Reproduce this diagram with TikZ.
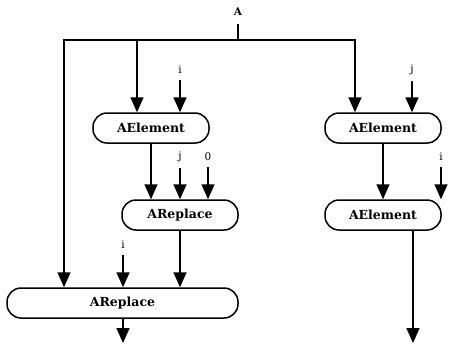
\documentclass[tikz,border=0pt]{standalone}
\usepackage{fontspec}
\setmainfont{DejaVu Serif}
\usepackage{tikz}
\usetikzlibrary{arrows.meta}

\tikzset{
    op/.style={draw,line width=1.5pt,rounded corners=14pt,minimum width=116pt,minimum height=30pt,
        inner sep=0pt,font=\fontsize{12.5}{14}\selectfont\bfseries},
    lbl/.style={inner sep=1pt,font=\fontsize{10.5}{12}\selectfont},
    wire/.style={line width=1.7pt},
    flow/.style={line width=1.7pt,-{Triangle[length=15pt,width=13pt]}}
}

\begin{document}
\begin{tikzpicture}[x=1pt,y=-1pt]
            \useasboundingbox (0,0) rectangle (469,349);

            % operation boxes
            \node[op] (ae1) at (151,128) {AElement};
            \node[op] (ae2) at (383,128) {AElement};
            \node[op] (ar1) at (180,215) {AReplace};
            \node[op] (ae3) at (383,215) {AElement};
            \node[op,minimum width=231pt] (ar2) at (122.5,303) {AReplace};

            % input labels
            \node[lbl,font=\fontsize{10.5}{12}\selectfont\bfseries] (a) at (238,12) {A};
            \node[lbl] (i1) at (180,70) {i};
            \node[lbl] (j1) at (412,70) {j};
            \node[lbl] (j2) at (180,157) {j};
            \node[lbl] (z2) at (208,157) {0};
            \node[lbl] (i3) at (441,157) {i};
            \node[lbl] (i4) at (123,245) {i};

            % the array A fans out
            \coordinate (top) at (238,40);
            \coordinate (barL) at (64,40);
            \coordinate (barM) at (137,40);
            \coordinate (barR) at (355,40);
            \draw[wire,shorten <=7pt] (a) -- (top);
            \draw[flow] (top) -- (barL) -- (barL |- ar2.north);
            \draw[flow] (top) -- (barR) -- (barR |- ae2.north);
            \draw[flow] (barM) -- (barM |- ae1.north);

            % index inputs
            \foreach \s/\t in {i1/ae1,j1/ae2,j2/ar1,z2/ar1,i3/ae3,i4/ar2}
                \draw[flow,shorten <=5pt] (\s.south) -- (\s |- \t.north);

            % results
            \draw[flow] (ae1.south) -- (ae1.south |- ar1.north);
            \draw[flow] (ar1.south) -- (ar1.south |- ar2.north);
            \draw[flow] (ae2.south) -- (ae2.south |- ae3.north);
            \coordinate (out1) at (123,343);
            \coordinate (out2) at (413,343);
            \draw[flow] (ar2.south -| out1) -- (out1);
            \draw[flow] (ae3.south -| out2) -- (out2);
\end{tikzpicture}
\end{document}
